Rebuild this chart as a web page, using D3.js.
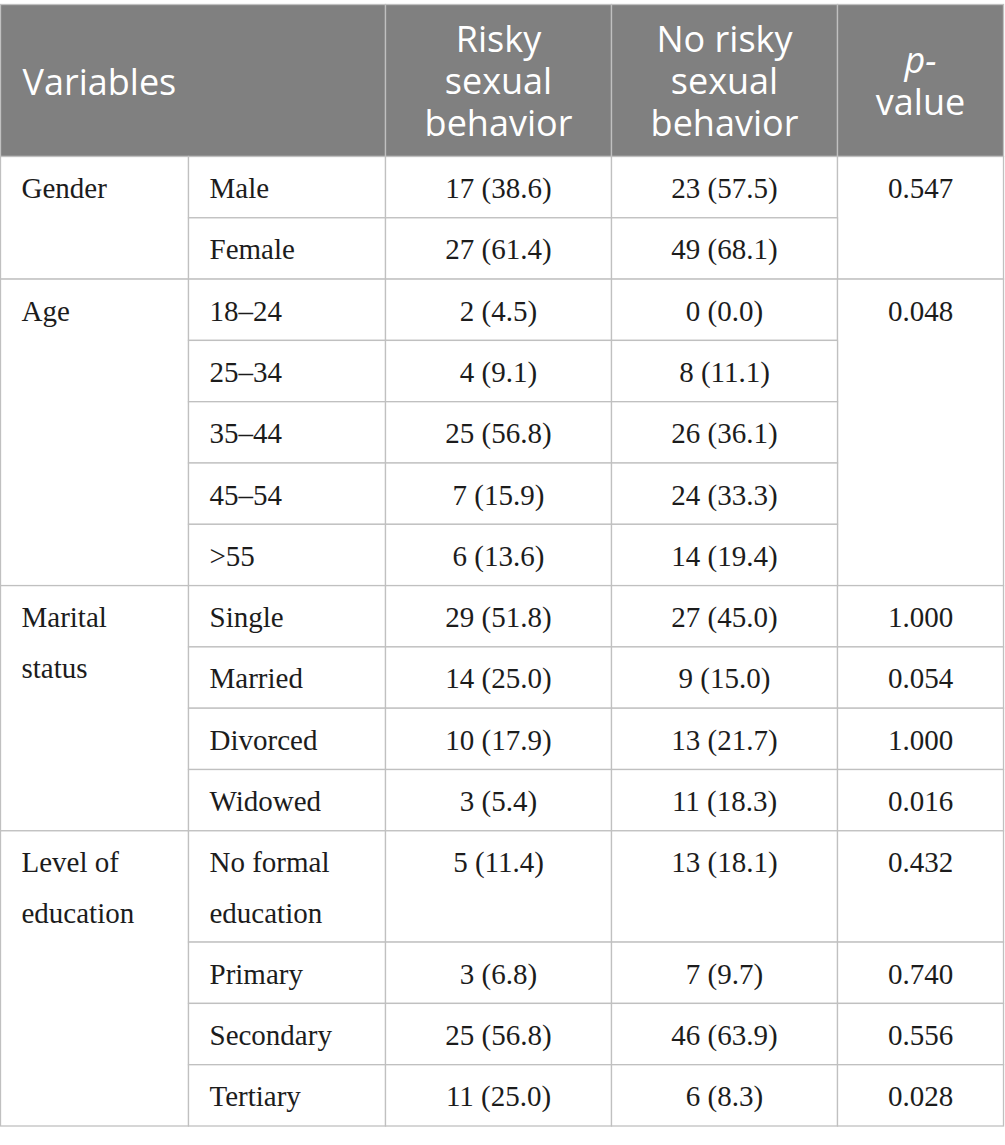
<!DOCTYPE html>
<html><head><meta charset="utf-8">
<script src="https://cdn.jsdelivr.net/npm/d3@7"></script>
<style>
html,body{margin:0;padding:0;background:#fff;}
svg{display:block;}
</style></head><body>
<svg id="chart" width="1005" height="1145"></svg>
<script>
// ---- data ----
const headerLines = [["Variables"], ["Risky", "sexual", "behavior"], ["No risky", "sexual", "behavior"], ["p-", "value"]];
const variables = ["Gender", "Age", "Marital status", "Level of education"];
const categoryGroups = [0, 0, 1, 1, 1, 1, 1, 2, 2, 2, 2, 3, 3, 3, 3];
const categories = ["Male", "Female", "18–24", "25–34", "35–44", "45–54", ">55", "Single", "Married", "Divorced", "Widowed", "No formal education", "Primary", "Secondary", "Tertiary"];
const riskyN = [17, 27, 2, 4, 25, 7, 6, 29, 14, 10, 3, 5, 3, 25, 11];
const riskyPct = [38.6, 61.4, 4.5, 9.1, 56.8, 15.9, 13.6, 51.8, 25.0, 17.9, 5.4, 11.4, 6.8, 56.8, 25.0];
const noRiskyN = [23, 49, 0, 8, 26, 24, 14, 27, 9, 13, 11, 13, 7, 46, 6];
const noRiskyPct = [57.5, 68.1, 0.0, 11.1, 36.1, 33.3, 19.4, 45.0, 15.0, 21.7, 18.3, 18.1, 9.7, 63.9, 8.3];
const pValues = ["0.547", null, "0.048", null, null, null, null, "1.000", "0.054", "1.000", "0.016", "0.432", "0.740", "0.556", "0.028"];

(function () {
// ---- layout ----
const colEdges = [0.5, 188.5, 385.5, 611.5, 837.5, 1003.5];
const tableTop = 4.5, headerH = 152, rowH = 61.3, lineStep = 50, pad = 21;
const bodyFont = "'Liberation Serif', 'Times New Roman', serif";
const headFont = "'Open Sans', 'Noto Sans', sans-serif";
const bodySize = 29;
const border = "#c0c0c0", headBg = "#808080", ink = "#1c1c1c";
const fmt = d3.format(".1f");

const svg = d3.select("#chart");

const meas = svg.append("text").attr("font-family", bodyFont).attr("font-size", bodySize).attr("visibility", "hidden");
function wrap(str, maxW) {
  const words = str.split(" ");
  const lines = [];
  let cur = "";
  words.forEach(w => {
    const t = cur ? cur + " " + w : w;
    meas.text(t);
    if (cur && meas.node().getComputedTextLength() > maxW) { lines.push(cur); cur = w; }
    else cur = t;
  });
  if (cur) lines.push(cur);
  return lines;
}

const x = i => colEdges[i];
const catLines = categories.map(c => wrap(c, x(2) - x(1) - 2 * pad));
const varLines = variables.map(v => wrap(v, x(1) - x(0) - 2 * pad));
const rowHeights = catLines.map(l => rowH + (l.length - 1) * lineStep);
const rowTops = [tableTop + headerH, ...Array.from(d3.cumsum(rowHeights), s => tableTop + headerH + s)];
meas.remove();

// ---- header ----
const hdrCols = [[0, 2], [2, 3], [3, 4], [4, 5]];
const hg = svg.append("g");
hg.selectAll("rect").data(hdrCols).join("rect")
  .attr("x", d => x(d[0])).attr("y", tableTop)
  .attr("width", d => x(d[1]) - x(d[0])).attr("height", headerH)
  .attr("fill", headBg).attr("stroke", border).attr("stroke-width", 1.3);
const hLineStep = 42, hMid = 94;
hg.selectAll("text").data(hdrCols).join("text")
  .attr("font-family", headFont).attr("font-size", 36).attr("fill", "#fff")
  .attr("text-anchor", (d, i) => i === 0 ? "start" : "middle")
  .each(function (d, i) {
    const lines = headerLines[i];
    const xx = i === 0 ? x(0) + pad + 1 : (x(d[0]) + x(d[1])) / 2;
    const y0 = hMid - (lines.length - 1) * hLineStep / 2 + (i === 0 ? 1 : 0);
    const t = d3.select(this);
    lines.forEach((ln, k) => {
      t.append("tspan").attr("x", xx).attr("y", y0 + k * hLineStep)
        .attr("font-style", (i === 3 && k === 0) ? "italic" : null)
        .text(ln);
    });
  });

// ---- body cells ----
const cells = [];
variables.forEach((v, g) => {
  const idx = categoryGroups.map((gg, i) => gg === g ? i : -1).filter(i => i >= 0);
  const r0 = d3.min(idx), r1 = d3.max(idx) + 1;
  cells.push({ c0: 0, c1: 1, r0, r1, lines: varLines[g], align: "start" });
});
categories.forEach((c, i) => {
  cells.push({ c0: 1, c1: 2, r0: i, r1: i + 1, lines: catLines[i], align: "start" });
  cells.push({ c0: 2, c1: 3, r0: i, r1: i + 1, lines: [`${riskyN[i]} (${fmt(riskyPct[i])})`], align: "middle" });
  cells.push({ c0: 3, c1: 4, r0: i, r1: i + 1, lines: [`${noRiskyN[i]} (${fmt(noRiskyPct[i])})`], align: "middle" });
  if (pValues[i] !== null) {
    let r1 = i + 1;
    while (r1 < pValues.length && pValues[r1] === null) r1++;
    cells.push({ c0: 4, c1: 5, r0: i, r1, lines: [pValues[i]], align: "middle" });
  }
});

const bg = svg.append("g");
bg.selectAll("rect").data(cells).join("rect")
  .attr("x", d => x(d.c0)).attr("y", d => rowTops[d.r0])
  .attr("width", d => x(d.c1) - x(d.c0)).attr("height", d => rowTops[d.r1] - rowTops[d.r0])
  .attr("fill", "#fff").attr("stroke", border).attr("stroke-width", 1.3);

bg.selectAll("text").data(cells).join("text")
  .attr("font-family", bodyFont).attr("font-size", bodySize).attr("fill", ink)
  .attr("text-anchor", d => d.align)
  .each(function (d) {
    const xx = d.align === "start" ? x(d.c0) + pad : (x(d.c0) + x(d.c1)) / 2;
    const t = d3.select(this);
    d.lines.forEach((ln, k) => {
      t.append("tspan").attr("x", xx).attr("y", rowTops[d.r0] + 41.5 + k * 51).text(ln);
    });
  });
})();
</script>
</body></html>
